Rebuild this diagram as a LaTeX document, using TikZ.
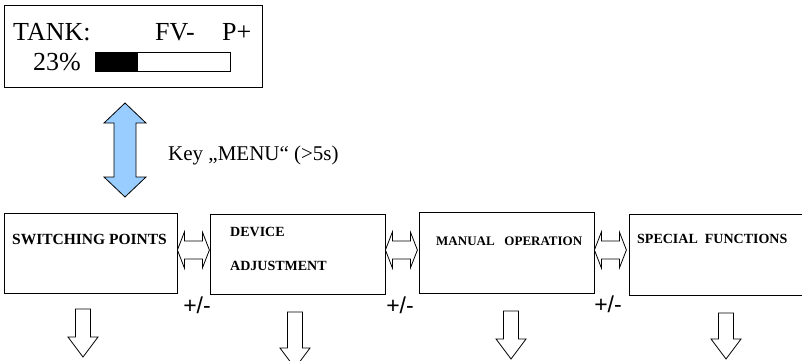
\documentclass[tikz,border=0pt]{standalone}
\usepackage{fontspec}
\setmainfont{Liberation Serif}
\newfontfamily\arialfont{Liberation Sans}

\definecolor{keyblue}{RGB}{153,204,255}

\tikzset{
  menubox/.style={draw, line width=0.8pt, inner sep=0pt},
  boxlbl/.style={anchor=base west, inner sep=0pt, font=\fontsize{14}{16}\selectfont\bfseries},
  lcdtxt/.style={anchor=base west, inner sep=0pt, font=\fontsize{26}{30}\selectfont},
  pmlbl/.style={inner sep=0pt, font=\arialfont\fontsize{23}{26}\selectfont},
  hollow/.style={draw=black, fill=white, line width=0.8pt, line join=miter},
  lrarrow/.pic={
    \draw[hollow] (0,0) -- (7,-18) -- (7,-9) -- (25,-9) -- (25,-18) -- (32,0)
      -- (25,18) -- (25,9) -- (7,9) -- (7,18) -- cycle;
  },
  downarr/.pic={
    \draw[hollow] (-7.5,0) -- (7.5,0) -- (7.5,#1) -- (15,#1) -- (0,#1+20)
      -- (-15,#1) -- (-7.5,#1) -- cycle;
  },
}

\begin{document}
\begin{tikzpicture}[x=1pt, y=-1pt]
    \useasboundingbox (0,0) rectangle (802,360);
    % Anzeige
    \node[menubox, minimum width=258pt, minimum height=82pt] (lcd) at (133,46) {};
    \node[lcdtxt] (tank) at (13,40) {TANK:};
    \node[lcdtxt] (fv) at (155,40) {FV-};
    \node[lcdtxt] (pplus) at (222,40) {P+};
    \node[lcdtxt] (level) at (33,70) {23\%};
    \node[draw, line width=0.8pt, minimum width=135pt, minimum height=19pt, anchor=north west, inner sep=0pt] (bar) at (95,52) {};
    \fill (bar.north west) rectangle ([xshift=43pt]bar.south west);

    % Taste MENU
    \coordinate (keytip) at (125,103);
    \draw[fill=keyblue, line width=0.8pt, line join=miter] (keytip) -- ++(21,20) -- ++(-10,0) -- ++(0,54) -- ++(10,0)
      -- (125,197) -- ++(-21,-20) -- ++(10,0) -- ++(0,-54) -- ++(-10,0) -- cycle;
    \node[anchor=base west, inner sep=0pt, font=\fontsize{21}{24}\selectfont] (key) at (168,160) {Key \char"201E MENU\char"201C\ (>5s)};

    % Menues
    \node[menubox, minimum width=173pt, minimum height=80pt] (sp) at (90.5,253) {};
    \node[menubox, minimum width=175pt, minimum height=80pt] (da) at (297.5,254) {};
    \node[menubox, minimum width=175pt, minimum height=81pt] (mo) at (506.5,252.5) {};
    \node[menubox, minimum width=177pt, minimum height=81pt] (sf) at (717.5,254.5) {};
    \node[boxlbl, font=\fontsize{15.5}{17}\selectfont\bfseries] (sptxt) at (12,244) {SWITCHING POINTS};
    \node[boxlbl] (datxt1) at (230,236) {DEVICE};
    \node[boxlbl] (datxt2) at (230,270) {ADJUSTMENT};
    \node[boxlbl, font=\fontsize{13}{15}\selectfont\bfseries] (motxt) at (436,245) {MANUAL\ \ \ OPERATION};
    \node[boxlbl] (sftxt) at (637,243) {SPECIAL\ \ FUNCTIONS};

    % Blaettern +/-
    \pic at ([yshift=3pt]sp.east) {lrarrow};
    \pic at ([yshift=4pt]da.east) {lrarrow};
    \pic at ([yshift=2.5pt]mo.east) {lrarrow};
    \node[pmlbl] (pm1) at (197,305) {+/-};
    \node[pmlbl] (pm2) at (400,305) {+/-};
    \node[pmlbl] (pm3) at (608,304) {+/-};

    % Untermenues
    \pic at (83,309) {downarr=28};
    \pic at (295,312) {downarr=36};
    \pic at (511,311) {downarr=28};
    \pic at (726,313) {downarr=26};
\end{tikzpicture}
\end{document}
